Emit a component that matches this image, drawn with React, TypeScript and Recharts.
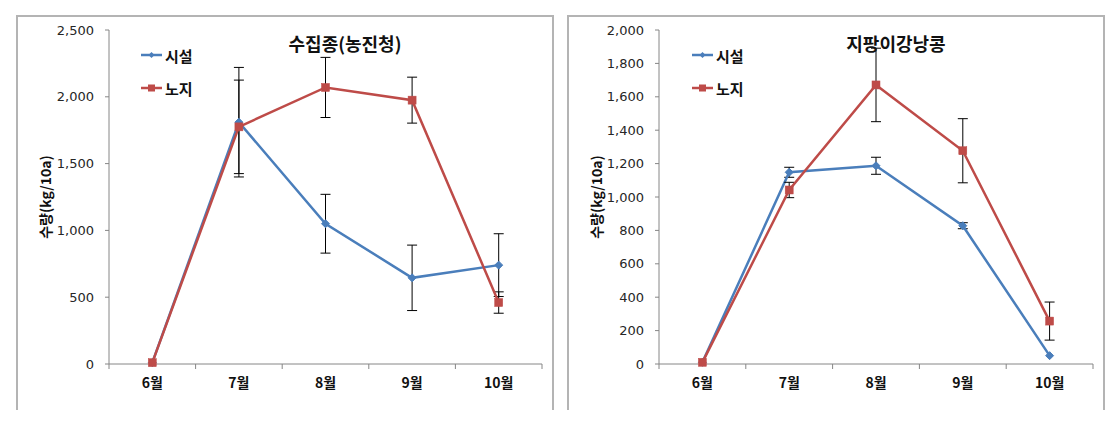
import React from 'react';
import { LineChart, Line, XAxis, YAxis, ErrorBar } from 'recharts';

const months = ['6월', '7월', '8월', '9월', '10월'];
const seriesNames = ['시설', '노지'];

const leftTitle = '수집종(농진청)';
const leftFacility = [10, 1810, 1050, 645, 740];
const leftFacilityErr = [null, 410, 220, 245, 235];
const leftOpen = [10, 1775, 2070, 1975, 460];
const leftOpenErr = [null, 350, 225, 172, 80];
const leftTicks = [0, 500, 1000, 1500, 2000, 2500];

const rightTitle = '지팡이강낭콩';
const rightFacility = [10, 1148, 1187, 828, 50];
const rightFacilityErr = [null, 30, 51, 18, null];
const rightOpen = [10, 1042, 1671, 1277, 257];
const rightOpenErr = [null, 46, 220, 192, 114];
const rightTicks = [0, 200, 400, 600, 800, 1000, 1200, 1400, 1600, 1800, 2000];

const BLUE = '#4A7EBB';
const RED = '#BE4B48';
const KFONT = "'Noto Sans CJK KR', 'Noto Sans', sans-serif";
const NFONT = "'DejaVu Sans', sans-serif";

function buildRows(a: number[], aErr: (number | null)[], b: number[], bErr: (number | null)[]) {
  return months.map((m, i) => {
    const row: any = { month: m, a: a[i], b: b[i] };
    if (aErr[i] != null) row.aErr = aErr[i];
    if (bErr[i] != null) row.bErr = bErr[i];
    return row;
  });
}

const Diamond = (props: any) => {
  const { cx, cy } = props;
  if (cx == null || cy == null) return null;
  const r = 4;
  return (
    <polygon
      points={`${cx},${cy - r} ${cx + r},${cy} ${cx},${cy + r} ${cx - r},${cy}`}
      fill={BLUE}
      stroke={BLUE}
      strokeWidth={1}
    />
  );
};

const Square = (props: any) => {
  const { cx, cy } = props;
  if (cx == null || cy == null) return null;
  const s = 8;
  return <rect x={cx - s / 2} y={cy - s / 2} width={s} height={s} fill={RED} stroke={RED} strokeWidth={0.5} />;
};

const XTick = (props: any) => {
  const { x, y, payload, index, visibleTicksCount, width } = props;
  let half = payload && typeof payload.offset === 'number' && payload.offset > 0 ? payload.offset : 0;
  if (!half && width) half = width / months.length / 2;
  const count = visibleTicksCount || months.length;
  return (
    <g>
      <line x1={x - half} x2={x - half} y1={y - 5} y2={y} stroke="#868686" strokeWidth={1} />
      {index === count - 1 && (
        <line x1={x + half} x2={x + half} y1={y - 5} y2={y} stroke="#868686" strokeWidth={1} />
      )}
      <text x={x} y={y + 19} textAnchor="middle" fontFamily={KFONT} fontWeight={700} fontSize={14} fill="#111">
        {payload.value}
      </text>
    </g>
  );
};

const fmt = (v: number) => v.toLocaleString('en-US');

function Panel(props: {
  left: number;
  title: string;
  a: number[];
  aErr: (number | null)[];
  b: number[];
  bErr: (number | null)[];
  ticks: number[];
  yWidth: number;
}) {
  const { left, title, a, aErr, b, bErr, ticks, yWidth } = props;
  const data = buildRows(a, aErr, b, bErr);
  const W = 538;
  const H = 395;
  return (
    <div
      style={{
        position: 'absolute',
        left,
        top: 15,
        width: W,
        height: H,
        borderTop: '2px solid #b4b4b4',
        borderLeft: '2px solid #b4b4b4',
        borderRight: '2px solid #b4b4b4',
        boxSizing: 'border-box',
      }}
    >
      <div style={{ position: 'absolute', left: -2, top: -2 }}>
        <LineChart width={W} height={H} data={data} margin={{ top: 15, right: 12, left: 0, bottom: 16 }}>
          <XAxis
            dataKey="month"
            scale="band"
            tickLine={false}
            tickSize={5}
            tickMargin={0}
            height={30}
            axisLine={{ stroke: '#868686' }}
            tick={<XTick />}
            interval={0}
          />
          <YAxis
            width={yWidth}
            domain={[ticks[0], ticks[ticks.length - 1]]}
            ticks={ticks}
            interval={0}
            tickFormatter={fmt}
            tickSize={4}
            tickMargin={11}
            axisLine={{ stroke: '#868686' }}
            tickLine={{ stroke: '#868686' }}
            tick={{ fontFamily: NFONT, fontSize: 13, fill: '#262626' }}
            label={{
              value: '수량(kg/10a)',
              angle: -90,
              position: 'insideLeft',
              offset: 30,
              style: { fontFamily: KFONT, fontWeight: 700, fontSize: 14, fill: '#111', textAnchor: 'middle' },
            }}
          />
          <Line
            dataKey="a"
            type="linear"
            stroke={BLUE}
            strokeWidth={2.5}
            dot={<Diamond />}
            activeDot={false}
            isAnimationActive={false}
          >
            <ErrorBar dataKey="aErr" width={5} stroke="#000" strokeWidth={1} direction="y" />
          </Line>
          <Line
            dataKey="b"
            type="linear"
            stroke={RED}
            strokeWidth={2.5}
            dot={<Square />}
            activeDot={false}
            isAnimationActive={false}
          >
            <ErrorBar dataKey="bErr" width={5} stroke="#000" strokeWidth={1} direction="y" />
          </Line>
        </LineChart>
      </div>
      <div
        style={{
          position: 'absolute',
          left: 0,
          width: W,
          top: 13,
          textAlign: 'center',
          paddingLeft: 116,
          boxSizing: 'border-box',
          fontFamily: KFONT,
          fontWeight: 700,
          fontSize: 18,
          color: '#111',
          lineHeight: '26px',
          pointerEvents: 'none',
        }}
      >
        {title}
      </div>
      <div style={{ position: 'absolute', left: 122, top: 27, fontFamily: KFONT, fontWeight: 700, fontSize: 15, color: '#111' }}>
        {seriesNames.map((n, i) => (
          <div key={n} style={{ display: 'flex', alignItems: 'center', height: 22, marginBottom: i === 0 ? 11 : 0 }}>
            <svg width={24} height={12} style={{ marginRight: 1 }}>
              <line x1={1} x2={22} y1={6} y2={6} stroke={i === 0 ? BLUE : RED} strokeWidth={2.5} />
              {i === 0 ? (
                <polygon points="11.5,3 14.5,6 11.5,9 8.5,6" fill={BLUE} />
              ) : (
                <rect x={8} y={2.5} width={7} height={7} fill={RED} />
              )}
            </svg>
            <span>{n}</span>
          </div>
        ))}
      </div>
    </div>
  );
}

export default function App() {
  return (
    <div style={{ position: 'absolute', left: 0, top: 0, width: 1115, height: 428, background: '#fff', overflow: 'hidden' }}>
      <Panel left={16} title={leftTitle} a={leftFacility} aErr={leftFacilityErr} b={leftOpen} bErr={leftOpenErr} ticks={leftTicks} yWidth={93} />
      <Panel left={567} title={rightTitle} a={rightFacility} aErr={rightFacilityErr} b={rightOpen} bErr={rightOpenErr} ticks={rightTicks} yWidth={92} />
    </div>
  );
}
